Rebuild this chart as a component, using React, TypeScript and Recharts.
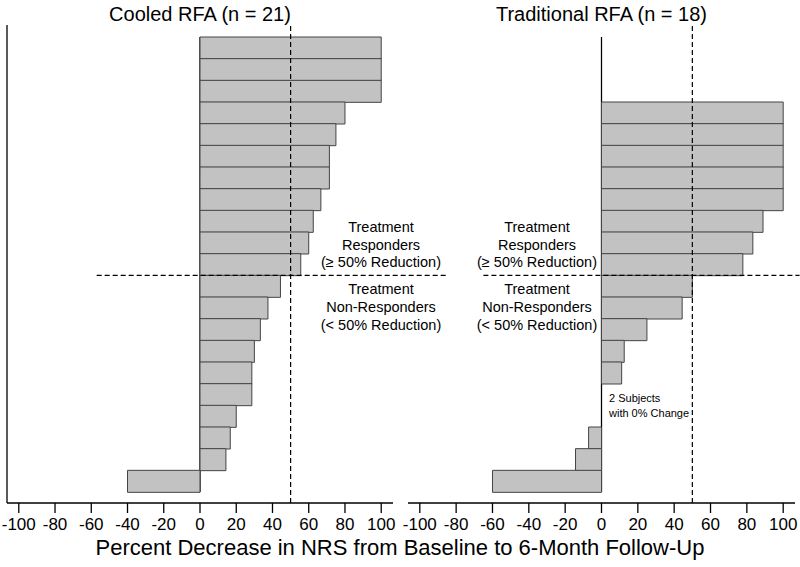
import React from "react";
import { BarChart, Bar, XAxis, YAxis, ReferenceLine, ReferenceArea } from "recharts";

// Percent decrease in NRS per subject, sorted (top to bottom)
const cooledValues = [100, 100, 100, 80, 75, 71.4, 71.4, 66.7, 62.5, 60, 55.6, 44.4, 37.5, 33.3, 30, 28.6, 28.6, 20, 16.7, 14.3, -40];
const traditionalValues = [100, 100, 100, 100, 100, 88.9, 83.3, 77.8, 50, 44.4, 25, 12.5, 11.1, 0, 0, -7.1, -14.3, -60];
const xTicks = [-100, -80, -60, -40, -20, 0, 20, 40, 60, 80, 100];
const slotCount = 21;
const responderThreshold = 50;
const xDomain: [number, number] = [-106.5, 106.5];
const cooledTitle = "Cooled RFA (n = 21)";
const traditionalTitle = "Traditional RFA (n = 18)";
const axisTitle = "Percent Decrease in NRS from Baseline to 6-Month Follow-Up";

function buildRows(values: number[]) {
  const offset = slotCount - values.length;
  const rows: { slot: string; value: number | null }[] = [];
  for (let i = 0; i < slotCount; i++) {
    const j = i - offset;
    rows.push({ slot: String(i + 1), value: j >= 0 ? values[j] : null });
  }
  return rows;
}

const cooledRows = buildRows(cooledValues);
const traditionalRows = buildRows(traditionalValues);

const FONT = "'Liberation Sans', Arial, Helvetica, sans-serif";
const PAD = { top: 12, bottom: 11 };
const firstSlot = "1";
const lastSlot = String(slotCount);
const firstNonResponderSlot = "12";

function Panel({ rows, width, margin, showSpine, boundaryFrom, boundaryTo }: any) {
  return (
    <BarChart
      width={width}
      height={567}
      data={rows}
      layout="vertical"
      margin={margin}
      barCategoryGap={0}
      barGap={0}
      style={{ fontFamily: FONT }}
    >
      <XAxis
        type="number"
        dataKey="value"
        domain={xDomain}
        allowDataOverflow
        ticks={xTicks}
        interval={0}
        height={30}
        tickSize={10}
        tickMargin={5}
        stroke="#000"
        tick={{ fill: "#000", fontSize: 17, fontFamily: FONT }}
        axisLine={{ stroke: "#000", strokeWidth: 1.3 }}
        tickLine={{ stroke: "#000", strokeWidth: 1.3 }}
      />
      <YAxis
        type="category"
        dataKey="slot"
        width={1}
        padding={PAD}
        tick={false}
        tickLine={false}
        stroke="#000"
        axisLine={showSpine ? { stroke: "#000", strokeWidth: 1.3 } : false}
      />
      <Bar
        dataKey="value"
        fill="#c2c2c2"
        stroke="#444"
        strokeWidth={1}
        isAnimationActive={false}
      />
      <ReferenceArea
        x1={-0.35}
        x2={0.35}
        y1={firstSlot}
        y2={lastSlot}
        fill="#000"
        fillOpacity={1}
        stroke="none"
        ifOverflow="visible"
      />
      <ReferenceLine
        x={responderThreshold}
        stroke="#000"
        strokeWidth={1.2}
        strokeDasharray="5 3"
      />
      <ReferenceLine
        segment={[{ x: boundaryFrom, y: firstNonResponderSlot }, { x: boundaryTo, y: firstNonResponderSlot }]}
        position="start"
        stroke="#000"
        strokeWidth={1.2}
        strokeDasharray="5 3"
        ifOverflow="visible"
      />
    </BarChart>
  );
}

function Annot({ cx, lines, y, size }: any) {
  return (
    <>
      {lines.map((t: string, i: number) => (
        <text key={t + i} x={cx} y={y[i]} textAnchor="middle" fontSize={size} fill="#000" fontFamily={FONT}>
          {t}
        </text>
      ))}
    </>
  );
}

export default function App() {
  const respY = [232, 249.5, 267];
  const nonY = [294, 312, 330];
  return (
    <div style={{ position: "absolute", left: 0, top: 0, width: 800, height: 567, background: "#fff" }}>
      <div style={{ position: "absolute", left: 0, top: 0 }}>
        <Panel
          rows={cooledRows}
          width={460}
          margin={{ top: 25, left: 6, right: 67, bottom: 34 }}
          showSpine
          boundaryFrom={-57}
          boundaryTo={137}
        />
      </div>
      <div style={{ position: "absolute", left: 400, top: 0 }}>
        <Panel
          rows={traditionalRows}
          width={400}
          margin={{ top: 25, left: 7, right: 5, bottom: 34 }}
          showSpine={false}
          boundaryFrom={-65}
          boundaryTo={109}
        />
      </div>
      <svg width={800} height={567} style={{ position: "absolute", left: 0, top: 0, pointerEvents: "none" }}>
        <text x={200} y={20.5} textAnchor="middle" fontSize={20} fontFamily={FONT} fill="#000">{cooledTitle}</text>
        <text x={601.5} y={20.5} textAnchor="middle" fontSize={20} fontFamily={FONT} fill="#000">{traditionalTitle}</text>
        <Annot cx={381} lines={["Treatment", "Responders", "(\u2265 50% Reduction)"]} y={respY} size={14.5} />
        <Annot cx={381} lines={["Treatment", "Non-Responders", "(< 50% Reduction)"]} y={nonY} size={14.5} />
        <Annot cx={537} lines={["Treatment", "Responders", "(\u2265 50% Reduction)"]} y={respY} size={14.5} />
        <Annot cx={537} lines={["Treatment", "Non-Responders", "(< 50% Reduction)"]} y={nonY} size={14.5} />
        <text x={609} y={402} fontSize={11} fontFamily={FONT} fill="#000">2 Subjects</text>
        <text x={609} y={416.5} fontSize={11} fontFamily={FONT} fill="#000">with 0% Change</text>
        <text x={400} y={555} textAnchor="middle" fontSize={22} fontFamily={FONT} fill="#000">{axisTitle}</text>
      </svg>
    </div>
  );
}
